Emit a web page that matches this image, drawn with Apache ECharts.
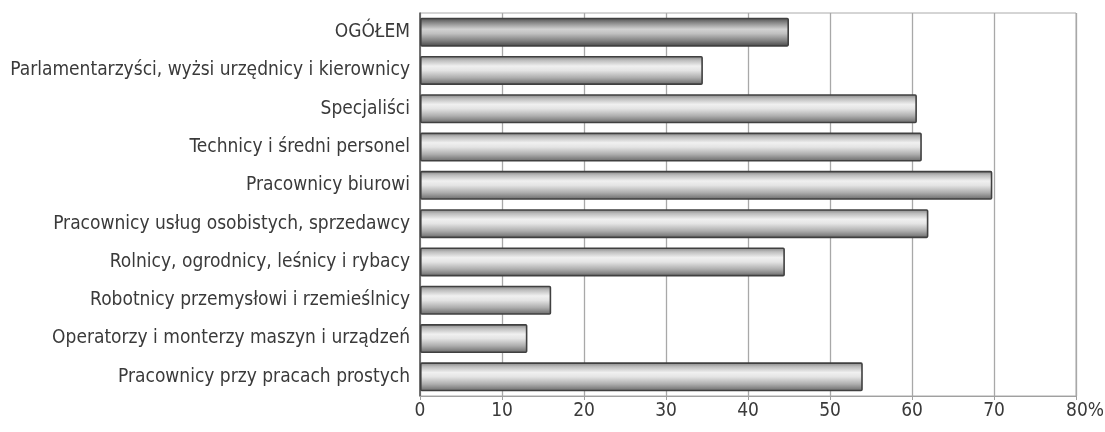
<!DOCTYPE html>
<html>
<head>
<meta charset="utf-8">
<script src="https://cdn.jsdelivr.net/npm/echarts@6/dist/echarts.min.js"></script>
<style>html,body{margin:0;padding:0;background:#fff}#c{width:1105px;height:432px}</style>
</head>
<body>
<div id="c"></div>
<script>
const categories = [
  'OGÓŁEM',
  'Parlamentarzyści, wyżsi urzędnicy i kierownicy',
  'Specjaliści',
  'Technicy i średni personel',
  'Pracownicy biurowi',
  'Pracownicy usług osobistych, sprzedawcy',
  'Rolnicy, ogrodnicy, leśnicy i rybacy',
  'Robotnicy przemysłowi i rzemieślnicy',
  'Operatorzy i monterzy maszyn i urządzeń',
  'Pracownicy przy pracach prostych'
];
const values = [45, 34.5, 60.6, 61.2, 69.8, 62, 44.5, 16, 13.1, 54];
const xTicks = [0, 10, 20, 30, 40, 50, 60, 70, 80];

const FONT = "'Liberation Sans Narrow', 'DejaVu Sans Condensed', 'Arial Narrow', sans-serif";

const lightGrad = new echarts.graphic.LinearGradient(0, 0, 0, 1, [
  {offset: 0, color: '#808080'},
  {offset: 0.15, color: '#bdbdbd'},
  {offset: 0.35, color: '#f0f0f0'},
  {offset: 0.5, color: '#e4e4e4'},
  {offset: 0.75, color: '#aeaeae'},
  {offset: 1, color: '#666666'}
]);
const darkGrad = new echarts.graphic.LinearGradient(0, 0, 0, 1, [
  {offset: 0, color: '#4a4a4a'},
  {offset: 0.18, color: '#8a8a8a'},
  {offset: 0.4, color: '#d2d2d2'},
  {offset: 0.55, color: '#c0c0c0'},
  {offset: 0.8, color: '#808080'},
  {offset: 1, color: '#444444'}
]);

const chart = echarts.init(document.getElementById('c'), null, {renderer: 'canvas'});
chart.setOption({
  animation: false,
  grid: {left: 420, right: 29, top: 13, bottom: 36, containLabel: false, outerBoundsMode: 'none',
         show: true, borderColor: '#aaaaaa', borderWidth: 1, backgroundColor: 'transparent'},
  xAxis: {
    type: 'value', min: 0, max: 80, interval: 10,
    axisLine: {show: true, lineStyle: {color: '#a0a0a0', width: 1}},
    axisTick: {show: true, length: 4, lineStyle: {color: '#a0a0a0'}},
    splitLine: {show: true, lineStyle: {color: '#a8a8a8', width: 1.3}},
    axisLabel: {
      margin: 6, color: '#3a3a3a', fontFamily: FONT, fontSize: 19,
      formatter: v => xTicks.indexOf(v) === xTicks.length - 1 ? '{p|' + v + '%}' : String(v),
      rich: {p: {padding: [0, 0, 0, 18], color: '#3a3a3a', fontFamily: FONT, fontSize: 19}}
    }
  },
  yAxis: {
    type: 'category', inverse: true, data: categories,
    axisLine: {show: true, lineStyle: {color: '#555', width: 1.5}},
    axisTick: {show: false},
    axisLabel: {margin: 10, color: '#3a3a3a', fontFamily: FONT, fontSize: 19}
  },
  series: [{
    type: 'bar',
    barWidth: 29,
    data: values.map((v, i) => ({
      value: v,
      itemStyle: {color: i === 0 ? darkGrad : lightGrad}
    })),
    itemStyle: {borderColor: '#404040', borderWidth: 1.6, borderRadius: 1}
  }]
});
</script>
</body>
</html>
